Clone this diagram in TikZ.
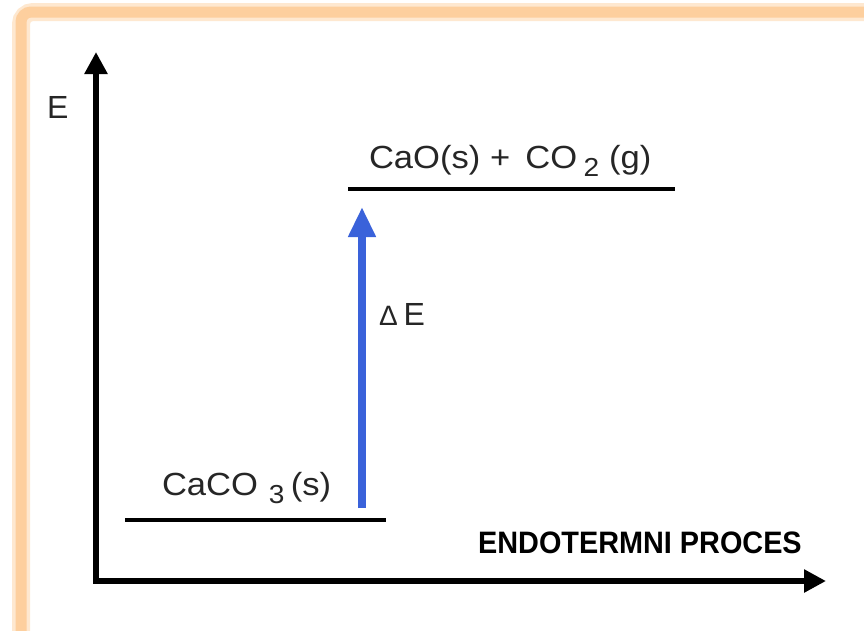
\documentclass[tikz,border=0pt]{standalone}
\usepackage{fontspec}
\setmainfont{Liberation Sans}
\usetikzlibrary{arrows.meta}
\definecolor{frameorange}{RGB}{253,207,158}
\definecolor{frameglow}{RGB}{254,232,208}
\definecolor{arrowblue}{RGB}{58,98,218}
\tikzset{
  lbl/.style={inner sep=0pt, outer sep=0pt, font=\fontsize{32}{32}\selectfont, text=black!85},
  chem/.style={lbl, xscale=1.08},
  axis/.style={line width=6pt, -{Triangle[length=22pt,width=22pt]}},
  level/.style={line width=4pt},
  deltaarrow/.style={line width=8pt, draw=arrowblue, -{Triangle[length=30pt,width=26pt]}}
}
\newcommand{\sbs}[1]{\raisebox{-8pt}{\fontsize{26}{26}\selectfont #1}}
\begin{document}
\begin{tikzpicture}[x=1pt,y=-1pt]
\useasboundingbox (0,0) rectangle (864,630);
\begin{scope}
\clip (0,0) rectangle (864,630);
\fill[white] (0,0) rectangle (864,630);
\draw[frameglow, line width=18pt, rounded corners=12pt] (21,12) rectangle (920,700);
\draw[frameorange, line width=11pt, rounded corners=10pt] (21,12) rectangle (920,700);
\end{scope}
% axes
\coordinate (O) at (96,581);
\coordinate (ytop) at (96,52);
\coordinate (xend) at (826,581);
\draw[axis] ([yshift=3pt]O) -- (ytop);
\draw[axis] ([xshift=-3pt]O) -- (xend);
\node[lbl, anchor=north west] (E) at (47,96) {E};
% levels
\coordinate (l1a) at (125,520);
\coordinate (l1b) at (386,520);
\coordinate (l2a) at (348,189);
\coordinate (l2b) at (675,189);
\draw[level] (l1a) -- (l1b);
\draw[level] (l2a) -- (l2b);
\node[chem, anchor=base west] (react) at (162,495) {CaCO\hspace{10pt}\sbs{3}\hspace{6pt}(s)};
\node[chem, anchor=base west] (prod) at (369,168) {CaO(s)\hspace{9pt}+\hspace{14pt}CO\hspace{6pt}\sbs{2}\hspace{9pt}(g)};
% delta E
\coordinate (da) at (362,508);
\coordinate (db) at (362,207);
\draw[deltaarrow] (da) -- (db);
\node[lbl, anchor=base west] (dE) at (379,325) {{\fontsize{28}{28}\selectfont Δ}\hspace{6pt}E};
% process label
\node[inner sep=0pt, anchor=base west, font=\fontsize{31}{31}\selectfont\bfseries, xscale=0.93] (proc) at (478,553) {ENDOTERMNI PROCES};
\end{tikzpicture}
\end{document}
